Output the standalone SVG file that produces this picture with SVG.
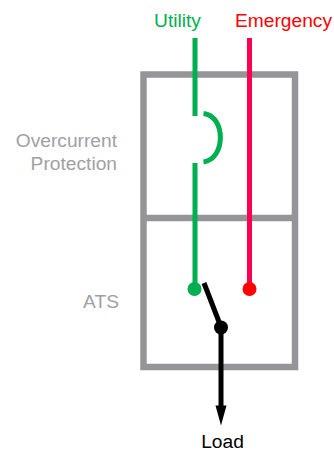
<svg xmlns="http://www.w3.org/2000/svg" width="334" height="452" viewBox="0 0 334 452">
<style>
text{font-family:"Liberation Sans",Arial,sans-serif;font-size:19.2px}
.g{fill:#a0a1a4;text-anchor:end}
.w{fill:none;stroke-width:5}
.box{fill:none;stroke:#939598;stroke-width:6.5}
</style>
<rect width="334" height="452" fill="#fff"/>
<g id="panel">
<rect class="box" x="143.500" y="74.500" width="151.500" height="292.500"/>
<line class="box" x1="143.500" y1="218" x2="295" y2="218"/>
</g>
<g id="connectors">
<path class="w" stroke="#00b050" d="M195 38V116M195 163V289"/>
<path class="w" stroke="#00b050" d="M203.500 113.500C226 116 226 159 203.500 162"/>
<line class="w" stroke="#ff0050" x1="249.500" y1="38" x2="249.500" y2="289"/>
<line class="w" stroke="#000" x1="204" y1="283" x2="221" y2="327"/>
<line class="w" stroke="#000" x1="221" y1="327" x2="221" y2="408"/>
<path d="M215.500 405.500H226.500L221 425.500Z" fill="#000"/>
</g>
<g id="utility"><circle cx="194.500" cy="289" r="7" fill="#00b050"/><text x="177.500" y="26.500" text-anchor="middle" fill="#00b050">Utility</text></g>
<g id="emergency"><circle cx="249.500" cy="289" r="7" fill="#ff0000"/><text x="283.500" y="26.500" text-anchor="middle" fill="#ff0000">Emergency</text></g>
<g id="switch"><circle cx="221" cy="327.500" r="7" fill="#000"/></g>
<g id="load"><text x="222.500" y="448" text-anchor="middle" fill="#000">Load</text></g>
<g id="overcurrent"><text class="g" x="117" y="147">Overcurrent</text><text class="g" x="117" y="170">Protection</text></g>
<g id="ats"><text class="g" x="119" y="308">ATS</text></g>
</svg>
